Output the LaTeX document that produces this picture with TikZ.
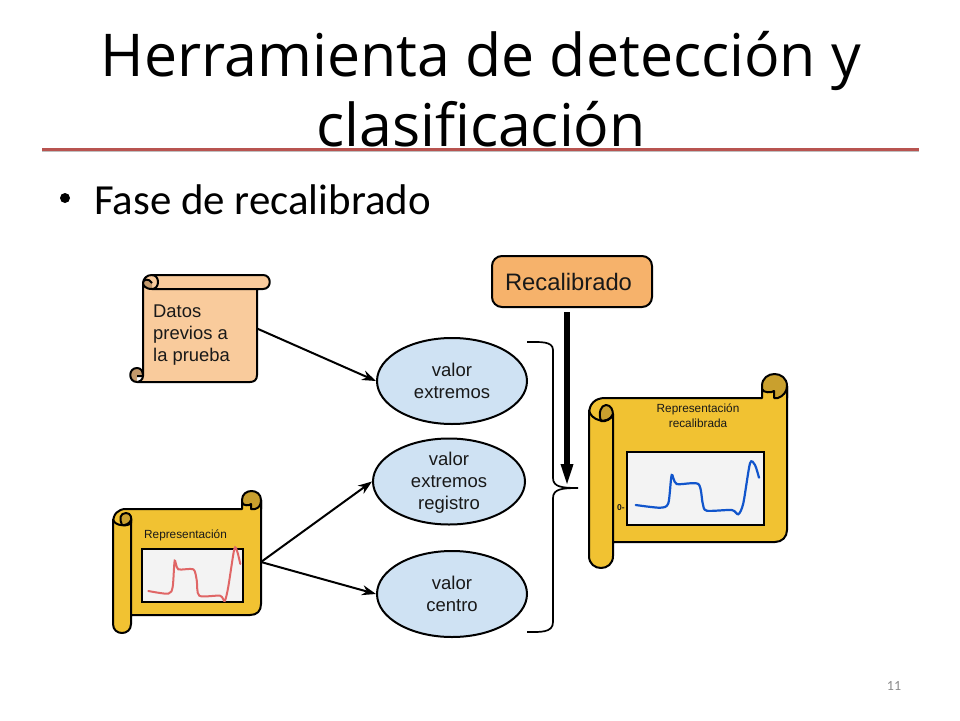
\documentclass[tikz,border=0pt]{standalone}
\usepackage{fontspec}
\setmainfont{Liberation Sans}
\newfontfamily\titlefont{Open Sans}
\newfontfamily\bodyfont{Carlito}
\usetikzlibrary{arrows.meta,shapes.geometric}
\definecolor{gold}{HTML}{F1C232}
\definecolor{golddark}{HTML}{C9A02E}
\definecolor{peach}{HTML}{F9CB9C}
\definecolor{peachdark}{HTML}{C49A6C}
\definecolor{recalfill}{HTML}{F6B26B}
\definecolor{skyfill}{HTML}{CFE2F3}
\definecolor{rulered}{HTML}{B85450}
\definecolor{panel}{HTML}{F3F3F3}
\definecolor{redcurve}{HTML}{E06666}
\definecolor{bluecurve}{HTML}{1155CC}
\tikzset{
  x=1pt,y=-1pt,
  txt/.style={inner sep=0pt,font=#1},
  blob/.style={ellipse,draw=black,line width=2pt,fill=skyfill,minimum width=150pt,minimum height=86pt,inner sep=0pt,align=center,font=\fontsize{18.5}{22}\selectfont,text=black!90},
  bodybox/.style={inner sep=0pt,outer sep=0pt},
  scrollline/.style={draw=black,line width=2pt,line join=round},
  link/.style={draw=black,line width=2pt,-{Stealth[length=14pt,width=10pt]}},
  curvepanel/.style={draw=black,line width=2pt,fill=panel},
}
\begin{document}
\begin{tikzpicture}
\useasboundingbox (0,0) rectangle (960,720);
\fill[white] (0,0) rectangle (960,720);
% Title
\node[txt={\titlefont\fontsize{59}{60}\selectfont},anchor=base] (t1) at (481,76) {Herramienta de detección y};
\node[txt={\titlefont\fontsize{59}{60}\selectfont},anchor=base] (t2) at (481,146) {clasificación};
\draw[draw=black!25,line width=2pt] (42,151) -- (919,151);
\draw[draw=rulered,line width=3pt] (42,149) -- (919,149);
\fill[black] (65,198) circle (5);
\node[txt={\bodyfont\fontsize{42.9}{46}\selectfont},anchor=base west] (fase) at (94,214) {Fase de recalibrado};
\node[txt={\bodyfont\fontsize{14}{16}\selectfont},text=black!45] (num) at (894,686) {11};

% Recalibrado
\node[draw=black,line width=2pt,fill=recalfill,rounded corners=10pt,minimum width=160pt,minimum height=51pt,inner sep=0pt,font=\fontsize{23.8}{26}\selectfont,text=black!90] (recal) at (572,281.5) {Recalibrado\rule{7pt}{0pt}};

% Scroll A: Datos
\node[bodybox,minimum width=114pt,minimum height=107pt] (datos) at (200,328.5) {};
\path[scrollline,fill=peach] (143,284) .. controls (143,278) and (147,275) .. (152,275)
  -- (263,275) .. controls (272,275) and (272,289) .. (263,289) -- (257,289) -- (257,375)
  .. controls (257,380) and (254,382) .. (250,382) -- (137,382)
  .. controls (139,382) and (143,380) .. (143,376) -- cycle;
\path[scrollline,fill=peachdark] (137,382) .. controls (128,382) and (128,368) .. (137,368)
  .. controls (141,368) and (143,371) .. (143,376) -- (137,376);
\path[scrollline,fill=peachdark] (152,289) .. controls (145,289) and (143,285) .. (143,283)
  .. controls (143,279) and (149,278) .. (152,283);
\path[scrollline] (152,275) .. controls (160,275) and (160,289) .. (152,289) -- (257,289);
\node[txt={\fontsize{18.4}{22}\selectfont},text=black!90,anchor=north west,align=left] (datostxt) at (153,305) {Datos\\previos a\\la prueba};

% Scroll B: Representación
\node[bodybox,minimum width=148pt,minimum height=106pt] (rep) at (187,562) {};
\path[scrollline,fill=golddark] (242,509) -- (242,500) .. controls (242,488) and (261,488) .. (261,500) -- (261,509) -- cycle;
\path[scrollline,fill=gold] (113,523) .. controls (113,514) and (118,509) .. (126,509) -- (242,509)
  -- (242,502) .. controls (242,506) and (250,506) .. (251,504) -- (251,509) -- (255,509)
  .. controls (259,508) and (261,505) .. (261,500) -- (261,604)
  .. controls (261,611) and (257,615) .. (250,615) -- (131,615) -- (131,624)
  .. controls (131,636) and (113,636) .. (113,624) -- cycle;
\path[scrollline,fill=golddark] (122,525) .. controls (119,519) and (120,513) .. (126,513)
  .. controls (131,513) and (132,518) .. (131,523) .. controls (129,525) and (125,526) .. (122,525) -- cycle;
\path[scrollline] (113,519) .. controls (114,526) and (128,528) .. (131,520) -- (131,615);
\node[txt={\fontsize{11.8}{14}\selectfont},text=black!90] (reptxt) at (185.5,535) {Representación};
\path[curvepanel] (142,549) rectangle (243,602);
\draw[redcurve,line width=2pt,line cap=round] plot[smooth,tension=0.45] coordinates {(148.3,591) (168.3,593.7) (172.7,586.7) (174.7,560.7) (178.3,569.3) (193.3,569.3) (196.7,580) (199.3,595.7) (220,595.7) (224.7,601) (228.3,586.7) (234.3,549) (237.3,551.7) (240.3,564)};

% Scroll C: Representación recalibrada
\node[bodybox,minimum width=198pt,minimum height=144pt] (recscroll) at (688,470) {};
\path[scrollline,fill=golddark] (762,398) -- (762,386) .. controls (762,370) and (787,370) .. (787,386) -- (787,398) -- cycle;
\path[scrollline,fill=gold] (589,414) .. controls (589,404) and (595,398) .. (605,398) -- (762,398)
  -- (762,389) .. controls (763,393) and (772,393) .. (774,391) -- (774,398) -- (778,398)
  .. controls (783,396) and (787,392) .. (787,386) -- (787,530)
  .. controls (787,537) and (782,542) .. (775,542) -- (613,542) -- (613,556)
  .. controls (613,572) and (589,572) .. (589,556) -- cycle;
\path[scrollline,fill=golddark] (601,421) .. controls (598,413) and (601,405) .. (606,405)
  .. controls (611,405) and (613,410) .. (613,415) .. controls (611,419) and (606,422) .. (601,421) -- cycle;
\path[scrollline] (589,410) .. controls (590,420) and (608,426) .. (613,414) -- (613,542);
\node[txt={\fontsize{11.8}{15}\selectfont},text=black!90,align=center] (rectxt) at (698,415.5) {Representación\\recalibrada};
\path[curvepanel] (627,452) rectangle (764,525);
\draw[bluecurve,line width=2.2pt,line cap=round] plot[smooth,tension=0.45] coordinates {(635.7,505) (660,507.7) (668.3,503.3) (671.7,475) (676.7,484) (698.3,484) (702.7,503.3) (706.7,510.7) (731.7,510) (738.3,514.3) (743.3,503.3) (750,463.3) (755,465) (759,477.7)};
\node[txt={\bfseries\fontsize{8.5}{9}\selectfont},text=black!90] (zero) at (621,508) {0-};

% Ellipses
\node[blob] (ext) at (452,381) {valor\\extremos};
\node[blob,minimum width=152pt] (reg) at (449,481.5) {};
\node[txt={\fontsize{18.5}{22}\selectfont},text=black!90,align=center] (regtxt) at (449,483) {valor\\extremos\\registro};
\node[blob] (cen) at (452,594) {valor\\centro};

% Connectors
\draw[link] (datos.east) -- (ext.west);
\draw[link] (rep.east) -- (reg.west);
\draw[link] (rep.east) -- (cen.west);

% Brace
\coordinate (bracetop) at (527,342);
\coordinate (bracetip) at (578,488);
\coordinate (bracebot) at (527,632);
\draw[black,line width=1.7pt] (bracetop) .. controls (540,342) and (553,341) .. (553,350)
  -- (553,478) .. controls (553,487) and (562,488) .. (bracetip)
  .. controls (562,488) and (553,489) .. (553,498) -- (553,622)
  .. controls (553,633) and (540,632) .. (bracebot);

% Thick arrow
\coordinate (tipA) at (567,487);
\draw[black,line width=5.5pt,shorten <=4pt,-{Triangle[length=23pt,width=11pt]}] (recal.south -| tipA) -- (tipA);
\end{tikzpicture}
\end{document}
